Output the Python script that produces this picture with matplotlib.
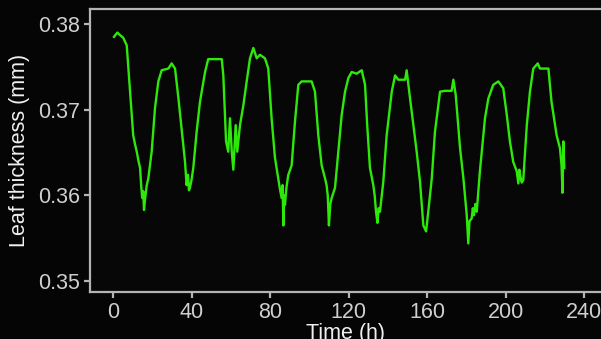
import numpy as np
import matplotlib.pyplot as plt

# leaf thickness trace (time in h, thickness in mm)
time_h = [0.5, 2.2, 3.6, 5.2, 7.0, 8.7, 10.3, 11.2, 12.1, 13.0, 13.8, 14.4, 14.9, 15.4, 15.8, 16.3,
          17.2, 18.0, 19.7, 21.4, 23.1, 24.8, 28.2, 29.9, 31.6, 33.3, 35.3, 36.7, 37.5, 38.2,
          38.7, 39.2, 40.0, 40.9, 42.6, 44.3, 46.9, 48.5, 52.0, 55.4, 56.2, 57.6, 58.7, 59.6,
          60.5, 61.3, 62.5, 63.3, 64.7, 66.4, 68.1, 69.8, 71.5, 73.2, 74.9, 77.4, 79.1, 80.8,
          82.5, 84.2, 85.0, 85.9, 86.4, 86.8, 87.2, 87.6, 88.4, 89.3, 91.0, 92.7, 94.4, 96.1,
          98.7, 101.2, 102.9, 104.6, 106.3, 108.0, 108.8, 109.4, 110.0, 110.7, 111.4, 113.1,
          114.8, 116.5, 118.2, 119.9, 121.6, 124.1, 126.7, 128.4, 129.5, 130.9, 132.6, 133.3,
          134.0, 134.7, 135.3, 136.0, 137.7, 139.4, 142.0, 143.7, 145.3, 148.8, 149.6, 150.9,
          153.0, 154.7, 156.4, 158.1, 159.5, 160.6, 162.4, 164.0, 166.6, 169.1, 172.5, 173.4,
          174.6, 176.8, 178.5, 180.2, 180.6, 181.0, 181.6, 182.7, 183.3, 183.9, 184.6, 185.3,
          186.9, 189.5, 191.2, 193.7, 196.3, 198.8, 200.6, 202.2, 203.9, 205.7, 206.5, 207.0,
          207.4, 208.2, 209.0, 210.8, 212.4, 214.1, 216.4, 217.5, 221.8, 223.4, 225.2, 226.0,
          227.7, 228.5, 229.0, 229.4, 229.9]
thickness = [0.3785, 0.3790, 0.3787, 0.3784, 0.3775, 0.3721, 0.3670, 0.3660, 0.3651, 0.3640,
             0.3632, 0.3610, 0.3597, 0.3605, 0.3583, 0.3595, 0.3612, 0.3620, 0.3651, 0.3702,
             0.3733, 0.3746, 0.3748, 0.3754, 0.3748, 0.3714, 0.3670, 0.3639, 0.3612, 0.3624,
             0.3606, 0.3609, 0.3618, 0.3632, 0.3674, 0.3709, 0.3744, 0.3759, 0.3759, 0.3759,
             0.3740, 0.3663, 0.3651, 0.3690, 0.3651, 0.3630, 0.3682, 0.3651, 0.3682, 0.3705,
             0.3733, 0.3760, 0.3772, 0.3760, 0.3764, 0.3760, 0.3748, 0.3690, 0.3644, 0.3620,
             0.3608, 0.3597, 0.3612, 0.3565, 0.3600, 0.3589, 0.3610, 0.3624, 0.3635, 0.3686,
             0.3729, 0.3733, 0.3733, 0.3733, 0.3721, 0.3670, 0.3635, 0.3620, 0.3612, 0.3600,
             0.3565, 0.3590, 0.3597, 0.3609, 0.3651, 0.3694, 0.3721, 0.3737, 0.3744, 0.3742,
             0.3746, 0.3729, 0.3682, 0.3632, 0.3612, 0.3600, 0.3581, 0.3568, 0.3585, 0.3581,
             0.3616, 0.3670, 0.3721, 0.3740, 0.3735, 0.3735, 0.3746, 0.3721, 0.3682, 0.3651,
             0.3616, 0.3565, 0.3558, 0.3581, 0.3620, 0.3674, 0.3721, 0.3722, 0.3722, 0.3735,
             0.3717, 0.3655, 0.3620, 0.3577, 0.3560, 0.3544, 0.3570, 0.3573, 0.3585, 0.3577,
             0.3590, 0.3581, 0.3628, 0.3690, 0.3713, 0.3729, 0.3733, 0.3725, 0.3694, 0.3663,
             0.3639, 0.3628, 0.3614, 0.3630, 0.3624, 0.3615, 0.3618, 0.3682, 0.3721, 0.3748,
             0.3754, 0.3748, 0.3748, 0.3709, 0.3682, 0.3670, 0.3655, 0.3635, 0.3603, 0.3663,
             0.3632]

xticks = [0, 40, 80, 120, 160, 200, 240]
yticks = [0.35, 0.36, 0.37, 0.38]

plt.rcParams["font.family"] = "Liberation Sans"
fig = plt.figure(figsize=(6.01, 3.39), dpi=100, facecolor='#050505')
ax = fig.add_axes([0.1498, 0.1386, 0.8502, 0.8349], facecolor='#070707')

ax.plot(time_h, thickness, color='#2ee80a', linewidth=1.7)

ax.set_xlim(-11.7, 248.6)
ax.set_ylim(0.34873, 0.38175)
ax.set_xticks(xticks)
ax.set_yticks(yticks)
ax.set_yticklabels(['%.2f' % v for v in yticks])

for s in ['left', 'bottom', 'top']:
    ax.spines[s].set_color('#b4b4b4')
    ax.spines[s].set_linewidth(1.6)
ax.spines['right'].set_visible(False)

ax.tick_params(colors='#b4b4b4', labelcolor='#cfcfcf', labelsize=15.5,
               length=4, width=1.6, pad=3)
ax.set_xlabel('Time (h)', color='#f0f0f0', fontsize=15.5, labelpad=0)
ax.set_ylabel('Leaf thickness (mm)', color='#f0f0f0', fontsize=15.5, labelpad=6)

plt.savefig('out.png', dpi=100, facecolor=fig.get_facecolor())
